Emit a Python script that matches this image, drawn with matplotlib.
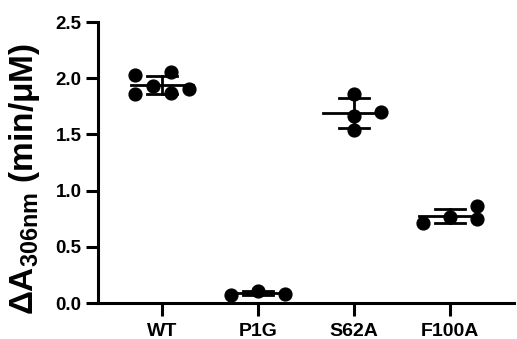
import numpy as np
import matplotlib
matplotlib.use("Agg")
import matplotlib.pyplot as plt

plt.rcParams["font.family"] = ["Liberation Sans", "DejaVu Sans"]
plt.rcParams["font.weight"] = "bold"
plt.rcParams["mathtext.fontset"] = "custom"
plt.rcParams["mathtext.rm"] = "Liberation Sans:bold"
plt.rcParams["mathtext.bf"] = "Liberation Sans:bold"

# Data (mean +/- SD computed from the points)
groups = ["WT", "P1G", "S62A", "F100A"]
wt = [2.026, 1.856, 1.930, 2.055, 1.872, 1.907]
p1g = [0.074, 0.108, 0.080]
s62a = [1.857, 1.663, 1.538, 1.699]
f100a = [0.713, 0.767, 0.867, 0.751]
values = [wt, p1g, s62a, f100a]

# horizontal spread of the dots (scatter layout)
spread = [
    [-0.28, -0.28, -0.09, 0.10, 0.10, 0.28],
    [-0.28, 0.0, 0.28],
    [0.0, 0.0, 0.0, 0.28],
    [-0.28, 0.0, 0.28, 0.28],
]

fig = plt.figure(figsize=(5.17, 3.39), dpi=100)
ax = fig.add_axes([0.19, 0.106, 0.805, 0.829])

for i, (vals, dx) in enumerate(zip(values, spread)):
    vals = np.array(vals)
    m = vals.mean()
    sd = vals.std(ddof=1)
    ax.scatter(i + np.array(dx), vals, s=85, color="black", zorder=3)
    ax.plot([i - 0.32, i + 0.32], [m, m], color="black", lw=2, zorder=2)
    ax.plot([i, i], [m - sd, m + sd], color="black", lw=2, zorder=2)
    for y in (m - sd, m + sd):
        ax.plot([i - 0.155, i + 0.155], [y, y], color="black", lw=2, zorder=2)

ax.set_xlim(-0.662, 3.67)
ax.set_ylim(0, 2.5)
ax.set_xticks(range(len(groups)))
ax.set_xticklabels(groups)
ax.set_yticks([0, 0.5, 1.0, 1.5, 2.0, 2.5])
ax.set_yticklabels(["0.0", "0.5", "1.0", "1.5", "2.0", "2.5"])

for s in ["top", "right"]:
    ax.spines[s].set_visible(False)
for s in ["left", "bottom"]:
    ax.spines[s].set_linewidth(2.2)
ax.tick_params(width=2.2, length=9)
ax.tick_params(axis="y", labelsize=13.5, pad=3)
ax.tick_params(axis="x", labelsize=14, pad=5)
for lab in ax.get_xticklabels() + ax.get_yticklabels():
    lab.set_fontweight("bold")

fig.text(0.048, 0.472, r"ΔA$_{\mathbf{306nm}}$ (min/μM)", rotation=90,
         ha="center", va="center", fontsize=24, fontweight="bold")

plt.savefig("out.png", dpi=100)
plt.close()
